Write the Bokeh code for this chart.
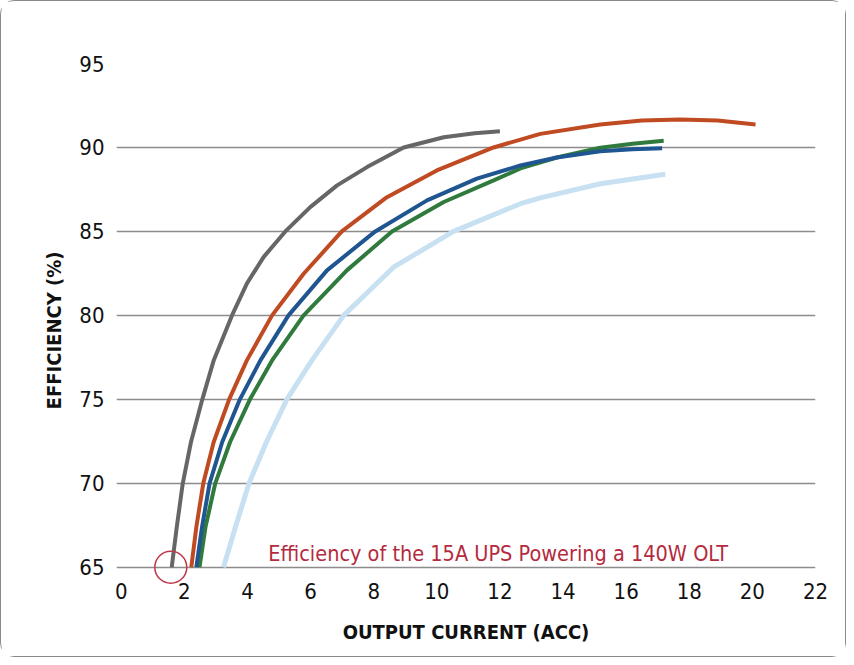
from bokeh.plotting import figure
from bokeh.models import Range1d, FixedTicker
from bokeh.embed import file_html
from bokeh.resources import INLINE
from bokeh.core.properties import value

FONT = "DejaVu Sans Condensed"

x_ticks = [0, 2, 4, 6, 8, 10, 12, 14, 16, 18, 20, 22]
y_ticks = [65, 70, 75, 80, 85, 90, 95]

gray_x = [1.6, 1.76, 1.95, 2.21, 2.57, 2.93, 3.51, 3.98, 4.51, 5.2, 5.99, 6.84, 7.79, 8.95, 10.22, 11.2, 12.0]
gray_y = [65, 67.4, 70, 72.46, 75, 77.32, 80, 81.89, 83.47, 85, 86.45, 87.74, 88.83, 90, 90.61, 90.85, 90.97]

orange_x = [2.22, 2.38, 2.6, 2.93, 3.42, 3.98, 4.78, 5.78, 6.99, 8.42, 10.0, 11.8, 13.28, 15.18, 16.5, 17.7, 18.9, 20.1]
orange_y = [65, 67.4, 70, 72.46, 75, 77.32, 80, 82.48, 85, 87.04, 88.63, 90.0, 90.81, 91.37, 91.6, 91.67, 91.6, 91.37]

blue_x = [2.38, 2.56, 2.8, 3.2, 3.76, 4.41, 5.3, 6.52, 8.05, 9.69, 11.27, 12.65, 13.8, 15.18, 16.2, 17.14]
blue_y = [65, 67.4, 70, 72.46, 75, 77.32, 80, 82.68, 85, 86.85, 88.14, 88.93, 89.4, 89.78, 89.9, 89.95]

green_x = [2.48, 2.67, 2.98, 3.45, 4.08, 4.78, 5.78, 7.15, 8.58, 10.22, 11.8, 12.65, 13.8, 15.18, 16.2, 17.19]
green_y = [65, 67.4, 70, 72.46, 75, 77.32, 80, 82.68, 85, 86.75, 88.04, 88.75, 89.4, 89.98, 90.22, 90.4]

light_x = [3.24, 3.62, 4.05, 4.6, 5.25, 6.04, 7.05, 8.63, 10.53, 12.65, 13.28, 15.18, 17.24]
light_y = [65, 67.4, 70, 72.46, 75, 77.32, 80, 82.87, 85, 86.65, 87.0, 87.84, 88.4]

marker_x = [1.57]
marker_y = [65]

title_text = "Efficiency of the 15A UPS Powering a 140W OLT"
title_x = 4.66
title_y = 65.85

p = figure(width=846, height=657, output_backend="svg", toolbar_location=None,
           x_range=Range1d(-0.15, 22), y_range=Range1d(63.2, 95),
           min_border_left=115, min_border_right=32, min_border_top=62, min_border_bottom=61)
p.outline_line_color = None
p.background_fill_color = "white"
p.border_fill_color = "white"
p.styles = {"border": "1px solid #8a8a8a", "border-radius": "14px"}

p.xgrid.visible = False
p.ygrid.ticker = FixedTicker(ticks=y_ticks)
p.ygrid.grid_line_color = "#8c8c8c"
p.ygrid.grid_line_width = 1.6

p.xaxis.ticker = FixedTicker(ticks=x_ticks)
p.yaxis.ticker = FixedTicker(ticks=y_ticks)
for ax in (p.xaxis, p.yaxis):
    ax.axis_line_color = None
    ax.major_tick_line_color = None
    ax.minor_tick_line_color = None
    ax.major_label_text_font = FONT
    ax.major_label_text_font_size = "22px"
    ax.major_label_text_color = "#111111"
    ax.axis_label_text_font = FONT
    ax.axis_label_text_font_style = "bold"
    ax.axis_label_text_font_size = "20px"
    ax.axis_label_text_color = "#111111"

p.xaxis.axis_label = "OUTPUT CURRENT (ACC)"
p.yaxis.axis_label = "EFFICIENCY (%)"
p.xaxis.major_label_standoff = -21
p.xaxis.axis_label_standoff = 18
p.yaxis.major_label_standoff = 6
p.yaxis.axis_label_standoff = 10

p.line(light_x, light_y, line_color="#c8e1f2", line_width=5)
p.line(green_x, green_y, line_color="#2f7a3c", line_width=4)
p.line(blue_x, blue_y, line_color="#1f5590", line_width=4)
p.line(orange_x, orange_y, line_color="#c04a22", line_width=4)
p.line(gray_x, gray_y, line_color="#666666", line_width=4)

p.scatter(marker_x, marker_y, size=32, fill_color=None, line_color="#c0384c", line_width=1.5)

p.text(x=[title_x], y=[title_y], text=[title_text], text_font=value(FONT),
       text_font_size="21.5px", text_color="#b42a3e", text_baseline="alphabetic")

open("out.html", "w").write(file_html(p, INLINE))
